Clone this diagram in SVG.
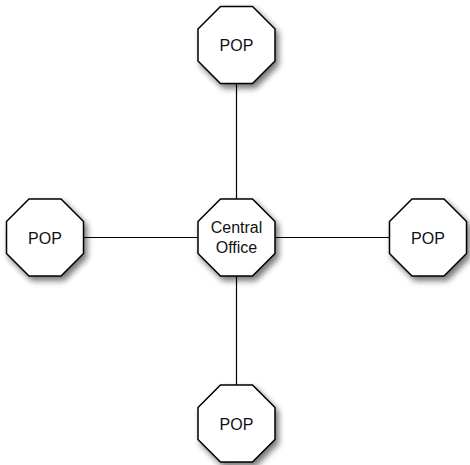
<svg xmlns="http://www.w3.org/2000/svg" width="470" height="465" viewBox="0 0 470 465">
<style>
.oct{fill:#ffffff;stroke:#000000;stroke-width:1.5;filter:url(#sh)}
.lbl{font-family:"Liberation Sans",Arial,sans-serif;font-size:16px;fill:#111111;text-anchor:middle}
.ln{stroke:#000000;stroke-width:1.2;fill:none}
</style>
<defs>
<filter id="sh" x="-30%" y="-30%" width="170%" height="170%">
<feGaussianBlur in="SourceAlpha" stdDeviation="3"/>
<feOffset dx="3" dy="4" result="b"/>
<feComponentTransfer><feFuncA type="linear" slope="0.55"/></feComponentTransfer>
<feMerge><feMergeNode/><feMergeNode in="SourceGraphic"/></feMerge>
</filter>
<polygon id="octa" points="-16,-38.5 16,-38.5 38.5,-16 38.5,16 16,38.5 -16,38.5 -38.5,16 -38.5,-16"/>
</defs>
<g id="connectors">
<line class="ln" x1="236.5" y1="83" x2="236.5" y2="199"/>
<line class="ln" x1="236.5" y1="276" x2="236.5" y2="385"/>
<line class="ln" x1="83" y1="237.5" x2="198" y2="237.5"/>
<line class="ln" x1="275" y1="237.5" x2="390" y2="237.5"/>
</g>
<g id="pop-top">
<use href="#octa" class="oct" x="236.5" y="45"/>
<text class="lbl" x="236.5" y="51">POP</text>
</g>
<g id="central-office">
<use href="#octa" class="oct" x="236.5" y="237.5"/>
<text class="lbl" x="236.5" y="233">Central</text>
<text class="lbl" x="236.5" y="253">Office</text>
</g>
<g id="pop-left">
<use href="#octa" class="oct" x="45" y="237.5"/>
<text class="lbl" x="45" y="243.5">POP</text>
</g>
<g id="pop-right">
<use href="#octa" class="oct" x="428" y="237.5"/>
<text class="lbl" x="428" y="243.5">POP</text>
</g>
<g id="pop-bottom">
<use href="#octa" class="oct" x="236.5" y="423.5"/>
<text class="lbl" x="236.5" y="429.5">POP</text>
</g>
</svg>
